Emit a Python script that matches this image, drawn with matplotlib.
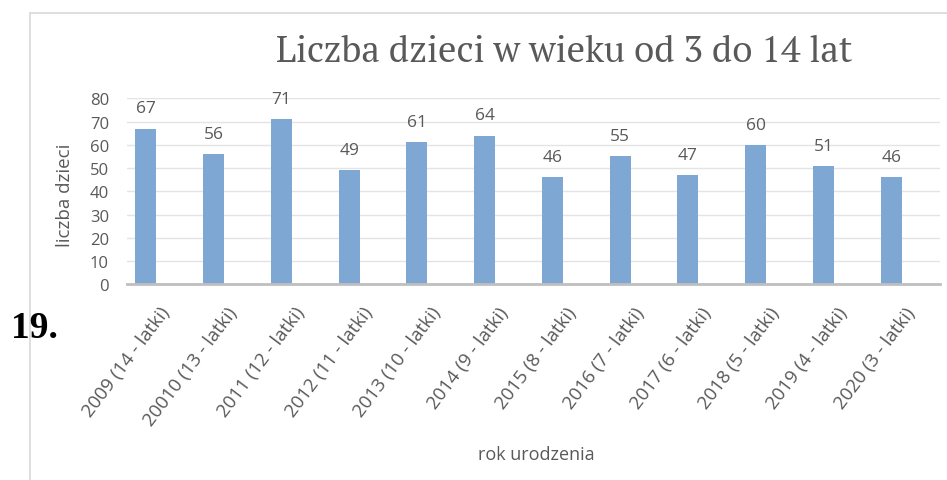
import matplotlib
matplotlib.use("Agg")
import matplotlib.pyplot as plt
import matplotlib.font_manager as fm
from matplotlib.lines import Line2D
from matplotlib.transforms import ScaledTranslation
import numpy as np

categories = ["2009 (14 - latki)", "20010 (13 - latki)", "2011 (12 - latki)",
              "2012 (11 - latki)", "2013 (10 - latki)", "2014 (9 - latki)",
              "2015 (8 - latki)", "2016 (7 - latki)", "2017 (6 - latki)",
              "2018 (5 - latki)", "2019 (4 - latki)", "2020 (3 - latki)"]
values = [67, 56, 71, 49, 61, 64, 46, 55, 47, 60, 51, 46]
yticks = [0, 10, 20, 30, 40, 50, 60, 70, 80]

title = "Liczba dzieci w wieku od 3 do 14 lat"
ylabel = "liczba dzieci"
xlabel = "rok urodzenia"

text_col = "#595959"
bar_col = "#7fa7d4"
font = ["Open Sans", "DejaVu Sans"]

# choose a light, narrow serif face for the title if one is installed
avail = {(f.name, str(f.stretch)) for f in fm.fontManager.ttflist}
title_font = ("Liberation Serif", "normal")
for cand in [("Noto Serif", "semi-condensed"), ("Noto Serif", "condensed"),
             ("Noto Serif Condensed", "normal"), ("PT Serif", "normal"),
             ("Liberation Serif", "normal")]:
    if cand in avail:
        title_font = cand
        break

W, H = 947, 481
fig = plt.figure(figsize=(W / 100, H / 100), dpi=100)
fig.patch.set_facecolor("white")

# chart frame (left and top border)
fig.add_artist(Line2D([30 / W, 30 / W], [0, 1 - 14 / H], transform=fig.transFigure,
                      color="#d9d9d9", lw=1.2))
fig.add_artist(Line2D([30 / W, 1], [1 - 14 / H, 1 - 14 / H], transform=fig.transFigure,
                      color="#d9d9d9", lw=1.2))

left, right = 127 / W, 940 / W
bottom, top = 1 - 285.3 / H, 1 - 99.3 / H
ax = fig.add_axes([left, bottom, right - left, top - bottom])
ax.set_facecolor("none")

x = np.arange(len(categories))
ax.bar(x, values, width=0.31, color=bar_col, zorder=2)

ax.set_ylim(0, 80)
ax.set_xlim(-0.28, len(categories) - 1 + 0.72)
ax.set_yticks(yticks)
ax.set_yticklabels([str(v) for v in yticks], fontsize=12, color=text_col, family=font)
ax.yaxis.grid(True, color="#e4e4e4", lw=1.0, zorder=0)
ax.set_axisbelow(True)
ax.tick_params(axis="y", length=0, pad=13)
ax.tick_params(axis="x", length=0, pad=0)

for s in ["left", "right", "top"]:
    ax.spines[s].set_visible(False)
ax.spines["bottom"].set_color("#bfbfbf")
ax.spines["bottom"].set_linewidth(2)
ax.spines["bottom"].set_zorder(3)

ax.set_xticks(x)
labs = ax.set_xticklabels(categories, rotation=53, ha="right", va="top",
                          rotation_mode="anchor", fontsize=13.5, color=text_col, family=font)
offset = ScaledTranslation(13 / 100, -19 / 100, fig.dpi_scale_trans)
for lab in labs:
    lab.set_transform(lab.get_transform() + offset)

for xi, v in zip(x, values):
    ax.annotate(str(v), (xi, v), xytext=(0, 14.5), textcoords="offset points",
                ha="center", va="center", fontsize=12.5, color=text_col, family=font)

t = fig.text(564 / W, 1 - 52 / H, title, ha="center", va="center", fontsize=26,
             color=text_col, family=title_font[0], fontstretch=title_font[1],
             fontweight="light")
# fit the title to the reference width
fig.canvas.draw()
bb = t.get_window_extent()
t.set_fontsize(26 * 576 / bb.width)

fig.text(65 / W, 1 - 195 / H, ylabel, ha="center", va="center", rotation=90,
         fontsize=13.5, color=text_col, family=font)
fig.text(536 / W, 1 - 455 / H, xlabel, ha="center", va="center",
         fontsize=13, color=text_col, family=font)
fig.text(11 / W, 1 - 328 / H, "19.", ha="left", va="center", fontsize=27,
         fontweight="bold", color="black", family=["Liberation Serif", "DejaVu Serif"])

fig.savefig("out.png", dpi=100, facecolor="white")
